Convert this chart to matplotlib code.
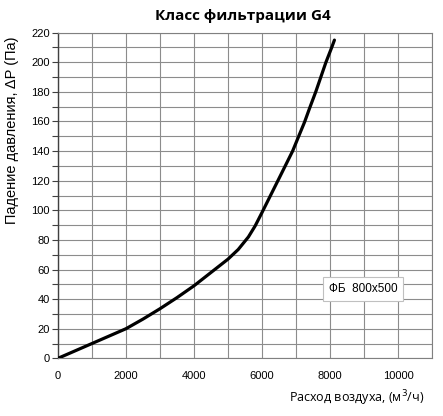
import matplotlib
matplotlib.use("Agg")
import matplotlib.pyplot as plt
from matplotlib.ticker import MultipleLocator

flow = [0, 500, 1000, 1500, 2000, 2500, 3000, 3500, 4000, 4500, 5000, 5300, 5600, 5800, 6000,
        6250, 6500, 6900, 7070, 7250, 7400, 7580, 7730, 7880, 8050, 8130]
dp = [0, 5, 10, 15, 20, 26.5, 33.5, 41, 49, 58, 67, 73.5, 82, 89.5, 98.5,
      110, 121.5, 140, 149.5, 159.5, 169, 180, 190, 200, 210, 215]
series_label = "ФБ  800x500"
title = "Класс фильтрации G4"
xlabel = "Расход воздуха, (м$^3$/ч)"
ylabel = "Падение давления, ΔP (Па)"

fig = plt.figure(figsize=(4.43, 4.16), dpi=100)
ax = fig.add_axes([58/443, 1-358.3/416, (432-58)/443, (358.3-32.7)/416])

ax.plot(flow, dp, color="black", lw=2.3, solid_capstyle="round", solid_joinstyle="round",
        label=series_label, zorder=3)

ax.set_xlim(0, 11000)
ax.set_ylim(0, 220)
ax.xaxis.set_major_locator(MultipleLocator(2000))
ax.xaxis.set_minor_locator(MultipleLocator(1000))
ax.yaxis.set_major_locator(MultipleLocator(20))
ax.yaxis.set_minor_locator(MultipleLocator(10))
ax.grid(which="both", color="#8c8c8c", lw=0.8, zorder=0)
ax.set_axisbelow(True)

for s in ["top", "right", "bottom"]:
    ax.spines[s].set_color("#808080")
    ax.spines[s].set_linewidth(0.8)
ax.spines["left"].set_color("#404040")
ax.spines["left"].set_linewidth(1.0)

ax.tick_params(axis="x", which="both", length=0, pad=9, labelsize=8)
ax.tick_params(axis="y", which="major", length=4, width=0.8, color="#404040", pad=2, labelsize=8)
ax.tick_params(axis="y", which="minor", length=4, width=0.8, color="#404040")
for lab in ax.get_xticklabels() + ax.get_yticklabels():
    lab.set_fontfamily("Liberation Sans")

fig.text(243/443, 1-16/416, title, ha="center", va="center", fontsize=11, fontweight="bold", family="Open Sans")
fig.text(424/443, 1-398/416, xlabel, ha="right", va="center", fontsize=9, family="Open Sans")
fig.text(12/443, 1-130/416, ylabel, ha="center", va="center", rotation=90, fontsize=10.5, family="Liberation Sans")

leg = ax.legend(loc="upper left", bbox_to_anchor=((322.7-58)/374, 1-(276.7-32.7)/325.6),
                borderaxespad=0, handlelength=0, handletextpad=0, fancybox=False, framealpha=1,
                edgecolor="#c0c0c0", borderpad=0.5, prop={"family": "Liberation Sans", "size": 8.5})
for h in leg.legend_handles:
    h.set_visible(False)
leg.get_frame().set_linewidth(0.8)

fig.savefig("out.png", dpi=100)
